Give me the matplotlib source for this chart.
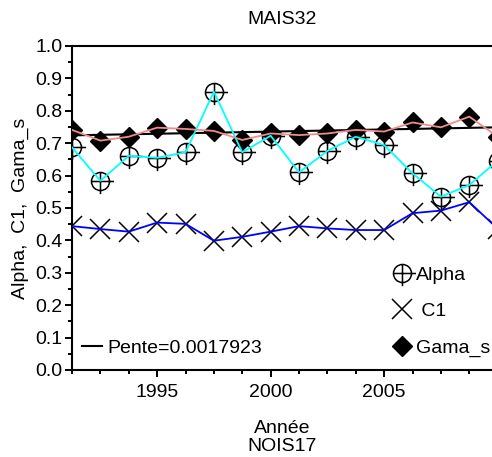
import numpy as np
import matplotlib
matplotlib.use('Agg')
import matplotlib.pyplot as plt
from matplotlib.path import Path
from matplotlib.lines import Line2D
from matplotlib.ticker import MultipleLocator

plt.rcParams['font.family'] = ['Liberation Sans', 'DejaVu Sans']
plt.rcParams['font.size'] = 14

# %% Data
years = [1991.25, 1992.5, 1993.75, 1995.0, 1996.25, 1997.5, 1998.75, 2000.0,
         2001.25, 2002.5, 2003.75, 2005.0, 2006.25, 2007.5, 2008.75, 2010.0]
alpha = [0.687, 0.584, 0.661, 0.655, 0.672, 0.859, 0.672, 0.723,
         0.610, 0.676, 0.720, 0.694, 0.607, 0.535, 0.571, 0.646]
c1 = [0.444, 0.435, 0.427, 0.455, 0.451, 0.399, 0.411, 0.427,
      0.444, 0.437, 0.432, 0.432, 0.484, 0.492, 0.518, 0.436]
gama_s = [0.741, 0.708, 0.720, 0.748, 0.744, 0.738, 0.710, 0.730,
          0.725, 0.730, 0.741, 0.736, 0.764, 0.749, 0.782, 0.720]
major_years = [1995, 2000, 2005]
pente_label = 'Pente=0.0017923'
series_labels = ['Alpha', ' C1', 'Gama_s']

# circle with a crosshair poking out to the right / bottom
oplus = Path.make_compound_path(
    Path.unit_circle(),
    Path([(-1, 0), (1.5, 0), (0, 1), (0, -1.4)],
         [Path.MOVETO, Path.LINETO, Path.MOVETO, Path.LINETO]))

fig = plt.figure(figsize=(4.92, 4.57), dpi=100)
ax = fig.add_axes([72 / 492, 87 / 457, 420 / 492, 324 / 457])

# linear trend of Gama_s
slope, icpt = np.polyfit(years, gama_s, 1)
trend_x = np.array([years[0], years[-1]])
ax.plot(trend_x, slope * trend_x + icpt, color='black', lw=1.5, zorder=2.5)

mk_alpha = dict(marker=oplus, ms=19.5, mfc='none', mec='black', mew=1.1, ls='none')
mk_c1 = dict(marker='x', ms=14.5, mec='black', mew=1.1, ls='none')
mk_gama = dict(marker='D', ms=10.5, mfc='black', mec='black', ls='none')

ax.plot(years, alpha, zorder=2, **mk_alpha)
ax.plot(years, c1, zorder=2, **mk_c1)
ax.plot(years, gama_s, zorder=2, **mk_gama)

ax.plot(years, alpha, color='#00FFFF', lw=1.3, zorder=3)
ax.plot(years, c1, color='#0000FF', lw=1.3, zorder=3)
ax.plot(years, gama_s, color='#F08C8C', lw=1.3, zorder=3)

ax.set_xlim(1991.25, 2009.75)
ax.set_ylim(0.0, 1.0)
ax.set_xticks(major_years)
ax.xaxis.set_minor_locator(MultipleLocator(1.25))
ax.yaxis.set_major_locator(MultipleLocator(0.1))
ax.yaxis.set_minor_locator(MultipleLocator(0.05))
ax.yaxis.set_major_formatter(lambda v, p: f'{v:.1f}')
ax.tick_params(which='major', direction='out', length=5, width=1.4, labelsize=14, pad=2)
ax.tick_params(which='minor', direction='out', length=3, width=1.4)
ax.tick_params(axis='x', which='major', pad=5)

for side in ['left', 'top', 'bottom']:
    ax.spines[side].set_linewidth(1.5)
ax.spines['right'].set_visible(False)

ax.set_title('MAIS32', fontsize=14, pad=16)
ax.set_xlabel('Année\nNOIS17', fontsize=14, linespacing=1.05, labelpad=14)
ax.set_ylabel('Alpha,  C1,  Gama_s', fontsize=14, labelpad=4)

leg1 = ax.legend([Line2D([], [], color='black', lw=1.5)], [pente_label],
                 loc='lower left', bbox_to_anchor=(0.024, 0.04), frameon=False,
                 handlelength=1.05, handletextpad=0.26, borderpad=0, borderaxespad=0)
ax.add_artist(leg1)
ax.legend([Line2D([], [], **mk_alpha), Line2D([], [], **mk_c1), Line2D([], [], **mk_gama)],
          series_labels, loc='lower left', bbox_to_anchor=(0.768, 0.04), frameon=False,
          handlelength=0.8, handletextpad=0.3, labelspacing=0.98, borderpad=0, borderaxespad=0)

fig.savefig('out.png', dpi=100)
